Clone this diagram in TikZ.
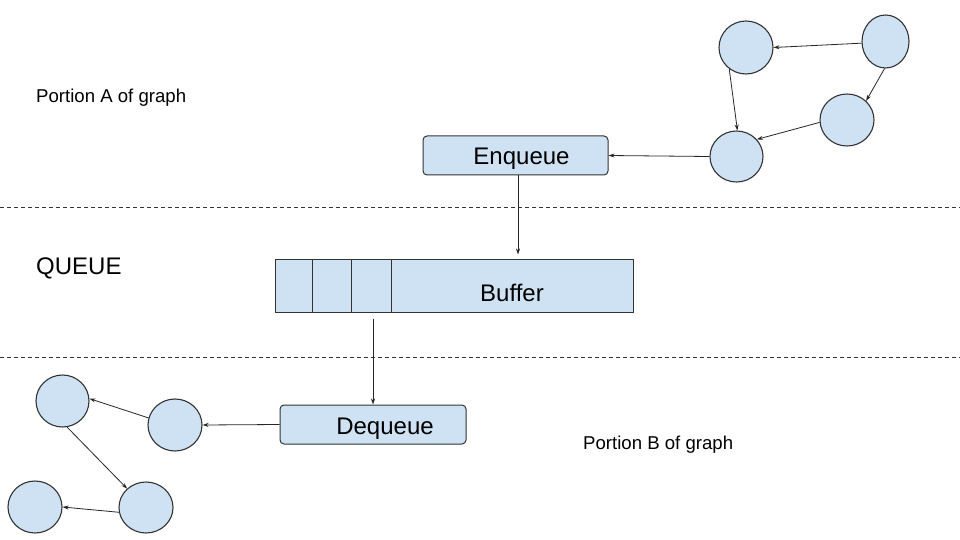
\documentclass[tikz,border=0pt]{standalone}
\usepackage{fontspec}
\setmainfont{Liberation Sans}
\usetikzlibrary{shapes.geometric,arrows.meta}
\definecolor{nodefill}{HTML}{CFE2F3}
\definecolor{edgegray}{HTML}{333333}
\tikzset{
  gnode/.style={ellipse,draw=edgegray,line width=1.1pt,fill=nodefill,inner sep=0pt},
  boxnode/.style={rectangle,rounded corners=4pt,draw=edgegray,line width=1pt,fill=nodefill,inner sep=0pt},
  arr/.style={-{Stealth[length=6pt,width=4pt]},line width=0.8pt,draw=black!85},
  sep/.style={dash pattern=on 4pt off 3pt,line width=0.9pt,draw=black!80},
  plain/.style={font=\fontsize{18.6}{22}\selectfont},
  big/.style={font=\fontsize{24}{28}\selectfont,text depth=0pt},
}
\begin{document}
\begin{tikzpicture}[x=1pt,y=-1pt]
\useasboundingbox (0,0) rectangle (960,540);
\fill[white] (0,0) rectangle (960,540);

% separators
\coordinate (s1l) at (0,207); \coordinate (s1r) at (960,207);
\coordinate (s2l) at (0,357); \coordinate (s2r) at (960,357);
\draw[sep] (s1l) -- (s1r);
\draw[sep] (s2l) -- (s2r);

% texts
\node[plain,anchor=west,inner sep=0pt] (pa) at (36,97.5) {Portion A of graph};
\node[big,anchor=west,inner sep=0pt] (qq) at (36,266) {QUEUE};
\node[plain,anchor=west,inner sep=0pt] (pb) at (583,444.5) {Portion B of graph};

% top-right graph
\node[gnode,minimum width=54pt,minimum height=53pt] (c1) at (746,47.5) {};
\node[gnode,minimum width=47pt,minimum height=53pt] (c2) at (885.5,41.5) {};
\node[gnode,minimum width=54pt,minimum height=52pt] (c3) at (847,120) {};
\node[gnode,minimum width=53pt,minimum height=51pt] (c4) at (736.5,156.5) {};

% boxes
\node[boxnode,minimum width=185pt,minimum height=39pt,
  label={[big,xshift=6pt,yshift=-1pt]center:Enqueue}] (enq) at (515.5,155.5) {};
\node[rectangle,draw=edgegray,line width=1pt,fill=nodefill,inner sep=0pt,
  minimum width=358pt,minimum height=53pt] (buf) at (454,285.5) {};
\node[big,inner sep=0pt] (buftxt) at (512,292.5) {Buffer};
\foreach \xx/\nm in {312.7/d1,351.7/d2,391/d3}{
  \coordinate (\nm t) at (\xx,259);
  \coordinate (\nm b) at (\xx,312);
  \draw[edgegray,line width=1pt] (\nm t) -- (\nm b);
}
\node[boxnode,minimum width=186pt,minimum height=39pt,
  label={[big,xshift=12pt,yshift=-1.5pt]center:Dequeue}] (deq) at (373,424.5) {};

% bottom-left graph
\node[gnode,minimum width=54pt,minimum height=52pt] (e1) at (175,425) {};
\node[gnode,minimum width=53pt,minimum height=52pt] (e2) at (62.5,401) {};
\node[gnode,minimum width=54pt,minimum height=51pt] (e3) at (146,507.5) {};
\node[gnode,minimum width=54pt,minimum height=52pt] (e4) at (35,507) {};

% connectors top
\draw[arr] (c2.184) -- (c1.0);
\draw[arr] (c2.268) -- (c3.45);
\draw[arr] (c1.232) -- (c4.88);
\draw[arr] (c3.185) -- (c4.40);
\draw[arr] (c4.180) -- (enq.east);
\draw[arr] ([xshift=2.5pt]enq.south) -- ([xshift=2.5pt,yshift=4pt]enq.south |- buf.north);

% connectors bottom
\draw[arr] ([yshift=-6pt]buf.south -| deq.north) -- (deq.north);
\draw[arr] (deq.west) -- (e1.east);
\draw[arr] (e1.165) -- (e2.5);
\draw[arr] (e2.280) -- (e3.135);
\draw[arr] (e3.190) -- (e4.0);
\end{tikzpicture}
\end{document}
